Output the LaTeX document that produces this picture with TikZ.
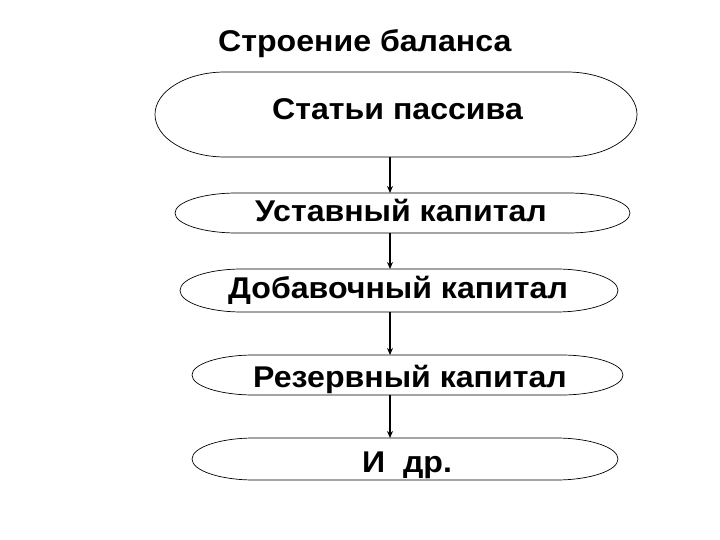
\documentclass[tikz,border=0pt]{standalone}
\usepackage{fontspec}
\setmainfont{Liberation Sans}[FakeStretch=1.07]
\usetikzlibrary{arrows.meta}
\tikzset{
  capshape/.style={draw=black, line width=0.7pt},
  lbl/.style={inner sep=0pt, anchor=base west, font=\bfseries\fontsize{30}{34}\selectfont},
  conn/.style={draw=black, line width=1.2pt, -{Stealth[length=7pt,width=6pt]}}
}
% \capbox{left}{right}{top}{bottom}{capwidth}
\newcommand{\capbox}[5]{%
  \pgfmathsetmacro{\cL}{#1}\pgfmathsetmacro{\cR}{#2}%
  \pgfmathsetmacro{\cT}{-#3}\pgfmathsetmacro{\cB}{-#4}%
  \pgfmathsetmacro{\cW}{#5}\pgfmathsetmacro{\cH}{(#4-#3)/2}%
  \draw[capshape] (\cL+\cW,\cT) -- (\cR-\cW,\cT)
     arc[start angle=90, end angle=-90, x radius=\cW, y radius=\cH]
     -- (\cL+\cW,\cB)
     arc[start angle=270, end angle=90, x radius=\cW, y radius=\cH] -- cycle;
}
\begin{document}
\begin{tikzpicture}[x=1pt,y=1pt]
\useasboundingbox (0,0) rectangle (720,-540);
\fill[white] (0,0) rectangle (720,-540);

\node[lbl] (title) at (218,-52) {Строение баланса};

\capbox{155}{637}{72}{157}{70}
\node[lbl] (b1) at (272,-120) {Статьи пассива};

\capbox{175}{630}{193}{233}{62}
\node[lbl] (b2) at (255,-222) {Уставный капитал};

\capbox{180}{618}{269}{312}{62}
\node[lbl] (b3) at (228,-298) {Добавочный капитал};

\capbox{192}{623}{355}{395}{62}
\node[lbl] (b4) at (253,-387) {Резервный капитал};

\capbox{192}{618}{438}{480}{62}
\node[lbl] (b5) at (362,-472) {И\ \ др.};

\coordinate (s1) at (390,-157);
\coordinate (n2) at (390,-193);
\coordinate (s2) at (390,-233);
\coordinate (n3) at (390,-269);
\coordinate (s3) at (390,-312);
\coordinate (n4) at (390,-355);
\coordinate (s4) at (390,-395);
\coordinate (n5) at (390,-438);

\draw[conn] (s1) -- (n2);
\draw[conn] (s2) -- (n3);
\draw[conn] (s3) -- (n4);
\draw[conn] (s4) -- (n5);
\end{tikzpicture}
\end{document}
